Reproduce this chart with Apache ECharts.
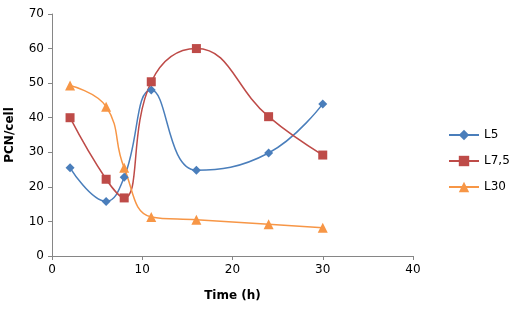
<!DOCTYPE html>
<html>
<head>
<meta charset="utf-8">
<script src="https://cdn.jsdelivr.net/npm/echarts@6/dist/echarts.min.js"></script>
<style>
  html, body { margin: 0; padding: 0; background: #fff; }
  #chart { width: 519px; height: 317px; }
</style>
</head>
<body>
<div id="chart"></div>
<script>
// time points (h)
var hours = [2, 6, 8, 11, 16, 24, 30];
// PCN/cell per series
var l5 = [25.5, 15.8, 22.8, 48, 24.8, 29.8, 44];
var l75 = [40, 22.2, 16.8, 50.4, 60, 40.3, 29.2];
var l30 = [49.3, 43.2, 25.5, 11.3, 10.5, 9.2, 8.2];
var seriesNames = ['L5', 'L7,5', 'L30'];

function pairs(ys) {
  return hours.map(function (h, i) { return [h, ys[i]]; });
}

var font = 'DejaVu Sans';
var chart = echarts.init(document.getElementById('chart'), null, {renderer: 'canvas'});

function line(name, ys, color, symbol, size) {
  return {
    name: name,
    type: 'line',
    data: pairs(ys),
    smooth: 0.45,
    symbol: symbol,
    symbolSize: size,
    lineStyle: {color: color, width: 1.5},
    itemStyle: {color: color},
    emphasis: {disabled: true}
  };
}

chart.setOption({
  animation: false,
  grid: {left: 52, right: 106, top: 14, bottom: 61, outerBoundsMode: 'none', containLabel: false},
  legend: {
    orient: 'vertical',
    left: 443,
    top: 124,
    itemGap: 14,
    itemWidth: 30,
    itemHeight: 13,
    textStyle: {fontFamily: font, fontSize: 12, color: '#000'},
    data: seriesNames
  },
  xAxis: {
    type: 'value',
    min: 0, max: 40, interval: 10,
    name: 'Time (h)',
    nameLocation: 'middle',
    nameGap: 34,
    nameTextStyle: {fontFamily: font, fontSize: 12, fontWeight: 'bold', color: '#000'},
    axisLine: {lineStyle: {color: '#868686'}},
    axisTick: {show: true, length: 4, lineStyle: {color: '#868686'}},
    axisLabel: {fontFamily: font, fontSize: 12, color: '#000', margin: 8},
    splitLine: {show: false}
  },
  yAxis: {
    type: 'value',
    min: 0, max: 70, interval: 10,
    name: 'PCN/cell',
    nameLocation: 'middle',
    nameGap: 36,
    nameRotate: 90,
    nameTextStyle: {fontFamily: font, fontSize: 12, fontWeight: 'bold', color: '#000'},
    axisLine: {show: true, lineStyle: {color: '#868686'}},
    axisTick: {show: true, length: 4, lineStyle: {color: '#868686'}},
    axisLabel: {fontFamily: font, fontSize: 12, color: '#000', margin: 8},
    splitLine: {show: false}
  },
  series: [
    line(seriesNames[0], l5, '#4A7EBB', 'diamond', 9),
    line(seriesNames[1], l75, '#BE4B48', 'rect', 9),
    line(seriesNames[2], l30, '#F79646', 'triangle', 10)
  ]
});
</script>
</body>
</html>
